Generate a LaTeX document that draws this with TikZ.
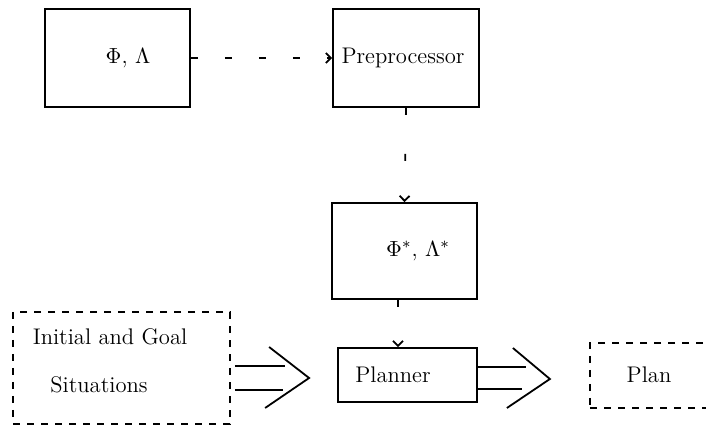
\documentclass[tikz,border=0pt]{standalone}
\usetikzlibrary{arrows.meta,calc}
\begin{document}
\begin{tikzpicture}[x=0.5pt,y=-0.5pt,
  every node/.style={font=\fontsize{11.3}{13.5}\selectfont},
  block/.style={draw,line width=0.9pt,inner sep=0pt},
  dashblock/.style={draw,line width=0.9pt,inner sep=0pt,dash pattern=on 3.5pt off 3.5pt},
  txt/.style={inner sep=0pt},
  flow/.style={line width=0.9pt,dash pattern=on 3.5pt off 13.5pt,-{Straight Barb[length=2.5pt,width=5pt]}},
  flowv/.style={line width=0.9pt,dash pattern=on 3.5pt off 19.5pt,-{Straight Barb[length=2.5pt,width=5pt]}},
  fat/.style={line width=0.9pt}]
\useasboundingbox (0,0) rectangle (706,426);
\clip (0,0) rectangle (706,426);

% boxes
\node[block,minimum width=72.5pt,minimum height=49pt] (phi) at (117.5,58) {};
\node[txt] (phitxt) at (128,58) {$\Phi$, $\Lambda$};
\node[block,minimum width=73pt,minimum height=49pt] (pre) at (406,58) {};
\node[txt] (pretxt) at (403,58) {Preprocessor};
\node[block,minimum width=72.5pt,minimum height=48pt] (star) at (404.5,251) {};
\node[txt] (startxt) at (418,251) {$\Phi^*$, $\Lambda^*$};
\node[block,minimum width=69.5pt,minimum height=27pt] (planner) at (407.5,375) {};
\node[txt] (plannertxt) at (393,375) {Planner};
\node[dashblock,minimum width=108.5pt,minimum height=56pt] (init) at (121.5,368) {};
\node[txt] (inittxt1) at (110,337) {Initial and Goal};
\node[txt] (inittxt2) at (99,385) {Situations};
\node[dashblock,minimum width=61pt,minimum height=32.5pt] (plan) at (651,375.5) {};
\node[txt] (plantxt) at (649,375) {Plan};

% dashed flows
\draw[flow] (phi.east) -- (pre.west);
\draw[flowv] (pre.south) -- (star.north);
\coordinate (cx) at (398,0);
\draw[flowv] (star.south -| cx) -- (planner.north -| cx);

% open double arrows
\coordinate (l1) at ($(init.east)+(4,10)$);
\coordinate (l2) at ($(planner.west)+(-28,3)$);
\draw[fat] ($(l1)+(0,-12)$) -- ($(l1)+(50,-12)$);
\draw[fat] ($(l1)+(0,12)$) -- ($(l1)+(48,12)$);
\draw[fat] ($(l2)+(-40,-31)$) -- (l2) -- ($(l2)+(-44,30)$);

\coordinate (r1) at ($(planner.east)+(0,3)$);
\coordinate (r2) at ($(planner.east)+(72,4)$);
\draw[fat] ($(r1)+(0,-11)$) -- ($(r1)+(48,-11)$);
\draw[fat] ($(r1)+(0,11)$) -- ($(r1)+(44,11)$);
\draw[fat] ($(r2)+(-37,-31)$) -- (r2) -- ($(r2)+(-43,29)$);
\end{tikzpicture}
\end{document}
